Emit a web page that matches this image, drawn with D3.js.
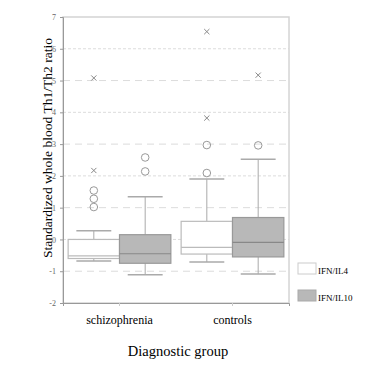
<!DOCTYPE html>
<html>
<head>
<style>
  body, html { margin: 0; padding: 0; background: #fff; }
</style>
</head>
<body>
<svg id="svg" width="366" height="366"></svg>
<script src="https://d3js.org/d3.v7.min.js"></script>
<script>
// groups and series
const groups = ['schizophrenia', 'controls']
const series = ['IFN/IL4', 'IFN/IL10']
const yTicks = [-2, -1, 0, 1, 2, 3, 4, 5, 6, 7]

// box stats per group, order: whiskerLow, q1, median, q3, whiskerHigh
const ifnIl4Stats = [
  [-0.68, -0.6, -0.52, 0.0, 0.27],
  [-0.71, -0.46, -0.25, 0.57, 1.9]
]
const ifnIl10Stats = [
  [-1.11, -0.75, -0.45, 0.15, 1.34],
  [-1.09, -0.55, -0.09, 0.69, 2.52]
]
// outliers (circles) and extremes (crosses)
const ifnIl4Outliers = [[1.02, 1.28, 1.54], [2.09, 2.97]]
const ifnIl4Extremes = [[2.17, 5.08], [3.82, 6.54]]
const ifnIl10Outliers = [[2.14, 2.58], [2.96]]
const ifnIl10Extremes = [[], [5.17]]

const fills = ['#ffffff', '#b8b8b8']
const serif = '"Liberation Serif", "Times New Roman", serif'

const svg = d3.select('#svg')
const mLeft = 63, mRight = 289, mTop = 17, mBottom = 303

const x = d3.scaleBand().domain(groups).range([mLeft, mRight])
const xs = d3.scaleBand().domain(series).range([0, x.bandwidth()]).paddingOuter(0.1)
const y = d3.scaleLinear().domain([-2, 7]).range([mBottom, mTop])

// grid
svg.append('g').selectAll('line')
  .data(yTicks.filter(d => d > -2 && d < 7))
  .join('line')
  .attr('x1', mLeft).attr('x2', mRight)
  .attr('y1', d => y(d)).attr('y2', d => y(d))
  .attr('stroke', '#dcdcdc')
  .attr('stroke-dasharray', d => d % 2 === 0 ? '3,2' : '7,5')

// frame
svg.append('rect')
  .attr('x', mLeft).attr('y', mTop)
  .attr('width', mRight - mLeft).attr('height', mBottom - mTop)
  .attr('fill', 'none').attr('stroke', '#d4d4d4').attr('stroke-width', 1.5)

// axis titles (drawn before tick labels)
svg.append('text')
  .attr('transform', 'translate(52,148) rotate(-90)')
  .attr('text-anchor', 'middle')
  .attr('textLength', 220).attr('lengthAdjust', 'spacingAndGlyphs')
  .style('font-size', '13px').style('font-family', serif)
  .text('Standardized whole blood Th1/Th2 ratio')
svg.append('text')
  .attr('x', 178).attr('y', 356)
  .attr('text-anchor', 'middle')
  .style('font-size', '14.5px').style('font-family', serif)
  .text('Diagnostic group')

// y axis
const yAxis = svg.append('g')
  .attr('transform', `translate(${mLeft},0)`)
  .call(d3.axisLeft(y).tickValues(yTicks).tickFormat(d => String(d)).tickSize(3).tickPadding(4))
yAxis.select('.domain').attr('stroke', '#999')
yAxis.selectAll('line').attr('stroke', '#999')
yAxis.selectAll('text').attr('fill', '#666')
  .style('font-size', '8px').style('font-family', serif)

// x axis
const xAxis = svg.append('g')
  .attr('transform', `translate(0,${mBottom})`)
  .call(d3.axisBottom(x).tickSize(3).tickPadding(9))
xAxis.select('.domain').attr('stroke', '#999')
xAxis.selectAll('line').attr('stroke', '#ccc')
xAxis.selectAll('text').attr('fill', '#000')
  .style('font-size', '12px').style('font-family', serif)

const allStats = [ifnIl4Stats, ifnIl10Stats]
const allOut = [ifnIl4Outliers, ifnIl10Outliers]
const allExt = [ifnIl4Extremes, ifnIl10Extremes]

series.forEach((s, si) => {
  groups.forEach((g, gi) => {
    const st = allStats[si][gi]
    const x0 = x(g) + xs(s)
    const w = xs.bandwidth()
    const cx = x0 + w / 2
    const cap = w * 0.68
    const grp = svg.append('g')
    const wcol = '#aaa'
    // whiskers
    grp.append('line').attr('x1', cx).attr('x2', cx)
      .attr('y1', y(st[0])).attr('y2', y(st[1])).attr('stroke', wcol)
    grp.append('line').attr('x1', cx).attr('x2', cx)
      .attr('y1', y(st[3])).attr('y2', y(st[4])).attr('stroke', wcol)
    ;[st[0], st[4]].forEach(v => {
      grp.append('line').attr('x1', cx - cap / 2).attr('x2', cx + cap / 2)
        .attr('y1', y(v)).attr('y2', y(v)).attr('stroke', wcol).attr('stroke-width', 1.5)
    })
    // box
    grp.append('rect')
      .attr('x', x0).attr('width', w)
      .attr('y', y(st[3])).attr('height', y(st[1]) - y(st[3]))
      .attr('fill', fills[si]).attr('stroke', si ? '#999' : '#bbb').attr('stroke-width', 1.2)
    grp.append('line').attr('x1', x0).attr('x2', x0 + w)
      .attr('y1', y(st[2])).attr('y2', y(st[2]))
      .attr('stroke', si ? '#888' : '#bbb').attr('stroke-width', 1.2)
    // outliers
    grp.selectAll('circle').data(allOut[si][gi]).join('circle')
      .attr('cx', cx).attr('cy', d => y(d)).attr('r', 3.8)
      .attr('fill', 'none').attr('stroke', '#999')
    allExt[si][gi].forEach(v => {
      const r = 2.6
      grp.append('path')
        .attr('d', `M${cx - r},${y(v) - r}L${cx + r},${y(v) + r}M${cx - r},${y(v) + r}L${cx + r},${y(v) - r}`)
        .attr('stroke', '#888').attr('fill', 'none')
    })
  })
})

// legend
const legend = svg.append('g')
series.forEach((s, i) => {
  const ly = 263 + i * 27
  legend.append('rect').attr('x', 298).attr('y', ly).attr('width', 18).attr('height', 11)
    .attr('fill', fills[i]).attr('stroke', i ? '#aaa' : '#ccc')
  legend.append('text').attr('x', 318).attr('y', ly + 11)
    .style('font-size', '9px').style('font-family', serif)
    .attr('fill', '#000').text(s)
})
</script>
</body>
</html>
